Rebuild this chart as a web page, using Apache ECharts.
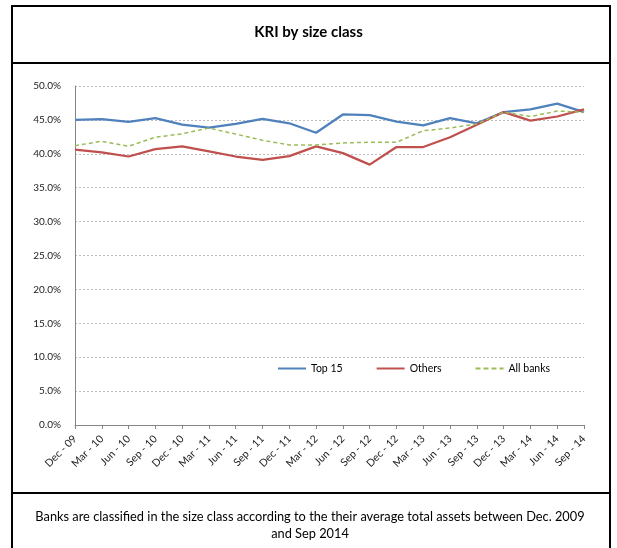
<!DOCTYPE html>
<html>
<head>
<meta charset="utf-8">
<title>KRI by size class</title>
<script src="https://cdn.jsdelivr.net/npm/echarts@6/dist/echarts.min.js"></script>
<style>
  html, body { margin: 0; padding: 0; background: #fff; }
  #chart { width: 617px; height: 548px; }
</style>
</head>
<body>
<div id="chart"></div>
<script>
// Quarterly reporting dates
var quarters = [
  'Dec - 09', 'Mar - 10', 'Jun - 10', 'Sep - 10', 'Dec - 10',
  'Mar - 11', 'Jun - 11', 'Sep - 11', 'Dec - 11', 'Mar - 12',
  'Jun - 12', 'Sep - 12', 'Dec - 12', 'Mar - 13', 'Jun - 13',
  'Sep - 13', 'Dec - 13', 'Mar - 14', 'Jun - 14', 'Sep - 14'
];

// KRI values (percent) by bank size class
var top15 = [45.0, 45.1, 44.7, 45.25, 44.3, 43.85, 44.4, 45.15, 44.5, 43.1,
             45.8, 45.7, 44.75, 44.2, 45.25, 44.5, 46.15, 46.55, 47.4, 46.15];
var others = [40.6, 40.2, 39.6, 40.7, 41.1, 40.35, 39.6, 39.1, 39.65, 41.1,
              40.1, 38.4, 41.0, 41.0, 42.45, 44.3, 46.15, 44.9, 45.5, 46.55];
var allBanks = [41.2, 41.85, 41.1, 42.45, 42.95, 43.8, 42.9, 42.0, 41.3, 41.3,
                41.6, 41.7, 41.7, 43.4, 43.8, 44.4, 46.15, 45.5, 46.3, 46.15];

// Y axis range and step (percent)
var yMin = 0, yMax = 50, yStep = 5;

var chart = echarts.init(document.getElementById('chart'), null, { renderer: 'canvas' });

var fontFamily = 'Lato, "Open Sans", sans-serif';

// legend keys: a solid stroke and a dashed stroke
var solidKey = 'path://M0,0h28v2h-28z';
var dashedKey = 'path://M0,0h5v2h-5z M8,0h5v2h-5z M16,0h5v2h-5z M24,0h4v2h-4z';

chart.setOption({
  animation: false,
  backgroundColor: '#fff',
  title: {
    text: 'KRI by size class',
    left: 'center',
    top: 20,
    textStyle: { fontFamily: fontFamily, fontWeight: 'bold', fontSize: 15, color: '#000' }
  },
  legend: {
    left: 278,
    top: 363,
    padding: 0,
    itemWidth: 28,
    itemHeight: 2,
    itemGap: 34,
    textStyle: { fontFamily: fontFamily, fontSize: 10.5, color: '#000' },
    data: [
      { name: 'Top 15', icon: solidKey },
      { name: 'Others', icon: solidKey },
      { name: 'All banks', icon: dashedKey }
    ]
  },
  grid: { left: 75, right: 33, top: 86, bottom: 123 },
  xAxis: {
    type: 'category',
    data: quarters,
    boundaryGap: false,
    axisLine: { lineStyle: { color: '#868686', width: 1 } },
    axisTick: { show: true, length: 4, lineStyle: { color: '#868686' } },
    axisLabel: {
      rotate: 45,
      interval: 0,
      margin: 12,
      fontFamily: fontFamily,
      fontSize: 10.5,
      color: '#222'
    },
    splitLine: { show: false }
  },
  yAxis: {
    type: 'value',
    min: yMin,
    max: yMax,
    interval: yStep,
    axisLine: { show: true, lineStyle: { color: '#868686', width: 1 } },
    axisTick: { show: false },
    axisLabel: {
      margin: 14,
      fontFamily: fontFamily,
      fontSize: 10,
      color: '#222',
      formatter: function (v) { return v.toFixed(1) + '%'; }
    },
    splitLine: { lineStyle: { color: '#bdbdbd', type: [2, 2], width: 1 } }
  },
  series: [
    {
      name: 'Top 15',
      type: 'line',
      data: top15,
      symbol: 'none',
      color: '#4F81BD',
      lineStyle: { color: '#4F81BD', width: 2.25 }
    },
    {
      name: 'Others',
      type: 'line',
      data: others,
      symbol: 'none',
      color: '#C0504D',
      lineStyle: { color: '#C0504D', width: 2.25 }
    },
    {
      name: 'All banks',
      type: 'line',
      data: allBanks,
      symbol: 'none',
      color: '#9BBB59',
      lineStyle: { color: '#9BBB59', width: 1.5, type: [4, 3] }
    }
  ],
  graphic: [
    // outer frame
    {
      type: 'rect',
      shape: { x: 12, y: 6, width: 598, height: 560 },
      style: { fill: 'none', stroke: '#000', lineWidth: 2 },
      silent: true
    },
    // divider under the title
    {
      type: 'line',
      shape: { x1: 12, y1: 63, x2: 610, y2: 63 },
      style: { stroke: '#000', lineWidth: 2 },
      silent: true
    },
    // divider above the note
    {
      type: 'line',
      shape: { x1: 12, y1: 493, x2: 610, y2: 493 },
      style: { stroke: '#000', lineWidth: 2 },
      silent: true
    },
    // note under the chart
    {
      type: 'text',
      x: 310,
      y: 508,
      silent: true,
      style: {
        text: 'Banks are classified in the size class according to the their average total assets between Dec. 2009\nand Sep 2014',
        align: 'center',
        verticalAlign: 'top',
        lineHeight: 17,
        fontFamily: fontFamily,
        fontSize: 12.8,
        fill: '#000'
      }
    }
  ]
});
</script>
</body>
</html>
